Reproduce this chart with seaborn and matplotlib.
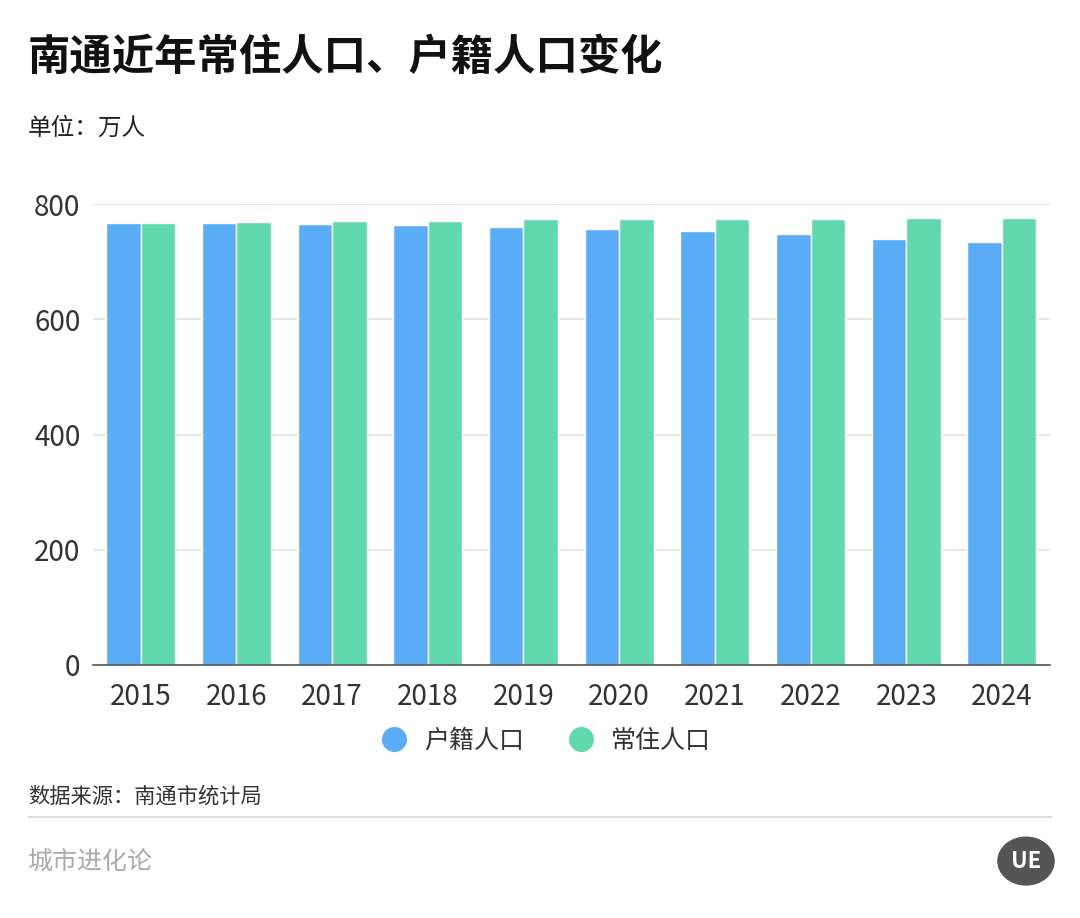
import numpy as np
import pandas as pd
import seaborn as sns
import matplotlib.pyplot as plt
from matplotlib.lines import Line2D

years = ["2015", "2016", "2017", "2018", "2019", "2020", "2021", "2022", "2023", "2024"]
huji = [768, 767, 765, 764, 761, 757, 753, 748, 740, 735]
changzhu = [768, 769, 770, 771, 774, 774, 774, 775, 776, 776]
series_names = ["户籍人口", "常住人口"]
colors = ["#5aadf5", "#5fd9ad"]

sns.set_theme(style="white")
plt.rcParams['font.family'] = ['Noto Sans CJK SC', 'DejaVu Sans']

data = pd.DataFrame({
    "year": years * 2,
    "value": huji + changzhu,
    "series": [series_names[0]] * len(years) + [series_names[1]] * len(years),
})

fig = plt.figure(figsize=(10.8, 9.18), dpi=100)
ax = fig.add_axes([0.086, 0.2756, 0.886, 0.502])

sns.barplot(data=data, x="year", y="value", hue="series", palette=colors,
            width=0.72, edgecolor="white", linewidth=1, saturation=1,
            legend=False, ax=ax)

ax.set_ylim(0, 800)
ax.set_xlim(-0.5, 9.5)
ax.set_yticks([0, 200, 400, 600, 800])
ax.yaxis.grid(True, color="#e3e3e3", linewidth=1.2)
ax.set_axisbelow(True)
for s in ["top", "right", "left"]:
    ax.spines[s].set_visible(False)
ax.spines["bottom"].set_color("#555555")
ax.spines["bottom"].set_linewidth(1.2)
ax.tick_params(axis="both", length=0, labelsize=20, colors="#333333")
ax.tick_params(axis="y", pad=9)
ax.tick_params(axis="x", pad=12)
ax.set_xlabel("")
ax.set_ylabel("")

fig.text(0.026, 0.937, "南通近年常住人口、户籍人口变化", fontsize=30.5, fontweight="bold",
         color="#111111", va="center")
fig.text(0.026, 0.860, "单位：万人", fontsize=17, color="#222222", va="center")

handles = [Line2D([0], [0], marker="o", linestyle="", markersize=17,
                  markerfacecolor=c, markeredgecolor=c) for c in colors]
fig.legend(handles, series_names, loc="center", bbox_to_anchor=(0.5, 0.193),
           ncol=2, frameon=False, fontsize=18, handletextpad=0.2,
           columnspacing=1.3, labelcolor="#333333")

fig.text(0.026, 0.132, "数据来源：南通市统计局", fontsize=15.3, color="#333333", va="center")
fig.add_artist(Line2D([0.027, 0.973], [0.110, 0.110], color="#dddddd", linewidth=1.5))
fig.text(0.026, 0.061, "城市进化论", fontsize=18, color="#aaaaaa", va="center")

# round logo bottom right
logo = plt.Circle((0.950, 0.062), 0.026, transform=fig.transFigure, color="#555555")
fig.add_artist(logo)
fig.text(0.950, 0.062, "UE", fontsize=16, fontweight="bold", color="white",
         ha="center", va="center")

fig.savefig("out.png", dpi=100)
